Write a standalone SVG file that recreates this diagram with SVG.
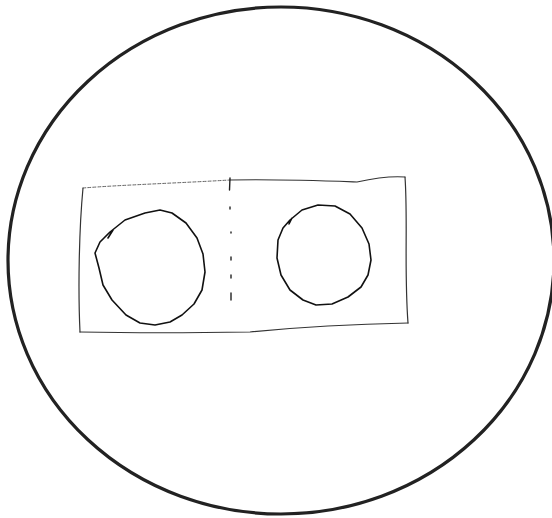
<svg xmlns="http://www.w3.org/2000/svg" width="552" height="518" viewBox="0 0 552 518">
  <style>
    .ink { fill: none; stroke: #111; stroke-linecap: round; stroke-linejoin: round; }
    .outer { stroke-width: 3.2; stroke: #222; }
    .shape { stroke-width: 1.6; }
    .frame { stroke-width: 1.2; stroke: #333; }
    .faint { stroke-width: 1; stroke: #666; stroke-dasharray: 3 2; }
    .divider { stroke-width: 1.4; stroke: #222; }
  </style>
  <rect width="552" height="518" fill="#ffffff"/>
  <g id="outer-circle">
    <ellipse class="ink outer" cx="281" cy="260.5" rx="273" ry="253.5"/>
  </g>
  <g id="frame">
    <path class="ink faint" d="M83,188 C120,185 180,183 230,180"/>
    <path class="ink frame" d="M230,180 C280,179 330,181 357,182 C375,178 392,176 405,177"/>
    <path class="ink frame" d="M405,177 C408,220 404,270 408,323"/>
    <path class="ink frame" d="M408,323 C360,324 300,327 250,332 C190,333 130,333 80,332"/>
    <path class="ink frame" d="M80,332 C78,290 79,230 83,188"/>
  </g>
  <g id="divider">
    <path class="ink divider" d="M230,178 L229.5,190 M230,207 L230,209 M231,232 L231,233 M231,257 L231,260 M231,275 L231,278 M231,293 L231,300"/>
  </g>
  <g id="left-circle">
    <path class="ink shape" d="M108,238 L113,230 M110,232 L125,220 L145,213 L160,210 L172,213 L186,223 L197,238 L203,254 L205,272 L202,290 L194,304 L182,315 L170,322 L155,325 L140,323 L126,315 L112,300 L103,285 L99,268 L95,253 L100,242 L110,232"/>
  </g>
  <g id="right-circle">
    <path class="ink shape" d="M289,224 L292,218 M290,220 L302,210 L318,205 L335,206 L350,214 L362,228 L369,244 L371,260 L368,275 L361,287 L348,297 L332,304 L316,305 L303,300 L290,290 L281,275 L277,258 L278,240 L283,228 L290,220"/>
  </g>
  <g id="connectors"></g>
</svg>
